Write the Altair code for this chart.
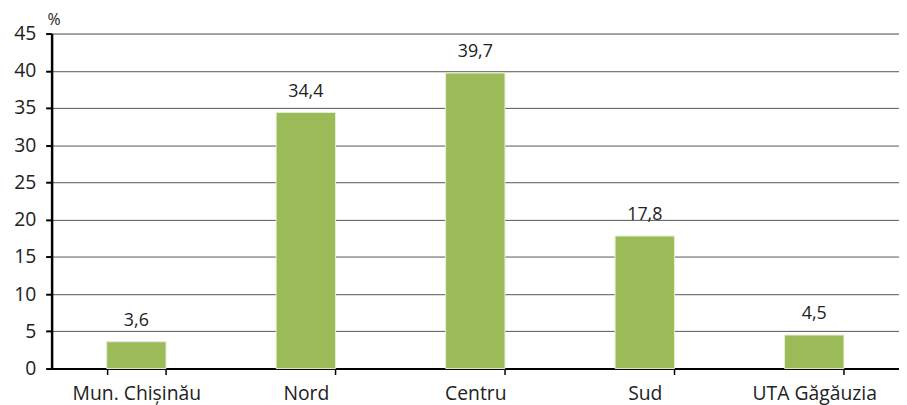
import altair as alt
import pandas as pd

categories = ["Mun. Chișinău", "Nord", "Centru", "Sud", "UTA Găgăuzia"]
values = [3.6, 34.4, 39.7, 17.8, 4.5]
labels = ["3,6", "34,4", "39,7", "17,8", "4,5"]

df = pd.DataFrame({"cat": categories, "val": values, "lab": labels})

FONT = "Open Sans"

x = alt.X("cat:N", sort=categories, title=None,
          scale=alt.Scale(paddingInner=0.65, paddingOuter=0.325),
          axis=alt.Axis(labelAngle=0, labelFontSize=19.5, labelFont=FONT, labelColor="#222",
                        labelPadding=10, tickBand="extent", tickSize=6, tickColor="#000",
                        tickWidth=1.5, domainColor="#000", domainWidth=2, grid=False))
y = alt.Y("val:Q", scale=alt.Scale(domain=[0, 45], nice=False),
          axis=alt.Axis(values=list(range(0, 50, 5)), labelFontSize=19.5, labelFont=FONT,
                        labelColor="#222", labelPadding=10, tickSize=6, tickColor="#000",
                        tickWidth=2, domainColor="#000", domainWidth=2.5, labelOverlap=False,
                        gridColor="#555", gridWidth=1, title="%", titleAngle=0,
                        titleFont=FONT, titleFontSize=16, titleFontWeight="normal",
                        titleColor="#222", titleX=2, titleY=-6, titleAlign="center",
                        titleBaseline="bottom"))

bars = alt.Chart(df).mark_bar(color="#9BBB59", stroke="#E4EDD2", strokeWidth=1).encode(x=x, y=y)
text = alt.Chart(df).mark_text(baseline="bottom", dy=-12, fontSize=18, font=FONT, color="#222").encode(
    x=x, y=y, text="lab:N")

chart = (bars + text).properties(
    width=855, height=338,
    autosize=alt.AutoSizeParams(type="none"),
    padding={"left": 44, "top": 24, "right": 0, "bottom": 37},
).configure_view(stroke=None).configure(background="white")

chart.save("out.html", embed_options={"renderer": "svg", "actions": False})
